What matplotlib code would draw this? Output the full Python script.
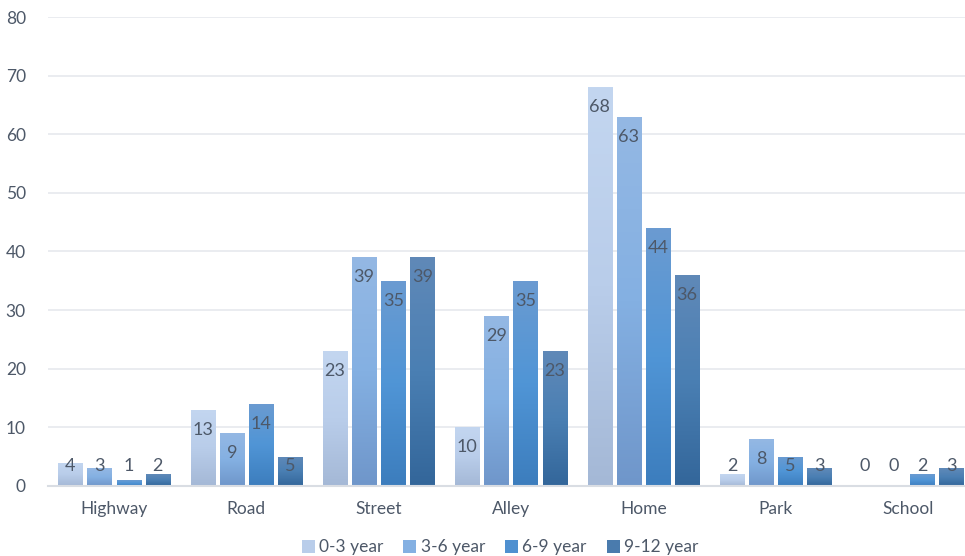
import numpy as np
import matplotlib
matplotlib.use("Agg")
import matplotlib.pyplot as plt
from matplotlib.colors import LinearSegmentedColormap
from matplotlib.patches import Patch

categories = ["Highway", "Road", "Street", "Alley", "Home", "Park", "School"]
series_names = ["0-3 year", "3-6 year", "6-9 year", "9-12 year"]
v0_3 = [4, 13, 23, 10, 68, 2, 0]
v3_6 = [3, 9, 39, 29, 63, 8, 0]
v6_9 = [1, 14, 35, 35, 44, 5, 2]
v9_12 = [2, 5, 39, 23, 36, 3, 3]
series_values = [v0_3, v3_6, v6_9, v9_12]
y_ticks = [0, 10, 20, 30, 40, 50, 60, 70, 80]

# gradient stops (top, middle, bottom)
grad = [
    ["#c3d6f0", "#b9cdea", "#a4b8d6"],
    ["#94b8e4", "#84b0e2", "#6f96ca"],
    ["#6b9bd1", "#5095d6", "#3c7dbd"],
    ["#6089b8", "#4a7fb3", "#33669a"],
]
legend_cols = ["#b9cdea", "#84b0e2", "#4f90d0", "#4a7bad"]

plt.rcParams['font.family'] = ['Lato', 'DejaVu Sans']
text_col = "#4d5868"

fig = plt.figure(figsize=(9.65, 5.56), dpi=100)
ax = fig.add_axes([48/965, 70/556, 926/965, 469/556])

x = np.arange(len(categories))
step = 0.22
width = 0.183
for i, (name, vals) in enumerate(zip(series_names, series_values)):
    offs = (i - 1.5) * step
    bars = ax.bar(x + offs, vals, width=width, color=grad[i][1], zorder=2, linewidth=0)
    cmap = LinearSegmentedColormap.from_list(f"g{i}", grad[i][::-1])
    gimg = np.linspace(0, 1, 256).reshape(-1, 1)
    for b, v in zip(bars, vals):
        if v > 0:
            x0 = b.get_x()
            im = ax.imshow(gimg, cmap=cmap, origin="lower", aspect="auto",
                           extent=[x0, x0 + b.get_width(), 0, v], zorder=3)
            im.set_clip_path(b)
        ly = max(v - 3.4, 3.4)
        ax.text(b.get_x() + b.get_width() / 2, ly, str(v),
                ha="center", va="center", fontsize=13, color=text_col, zorder=5)

ax.set_xlim(-0.5, len(categories) - 0.5)
ax.set_ylim(0, 80)
ax.set_yticks(y_ticks)
ax.set_xticks(x)
ax.set_xticklabels(categories)
ax.tick_params(axis="both", length=0, labelsize=12.5, colors=text_col)
ax.tick_params(axis="y", pad=16)
ax.tick_params(axis="x", pad=11)
ax.grid(axis="y", color="#e6e9ee", linewidth=1.2, zorder=0)
ax.set_axisbelow(True)
for s in ["top", "right", "left"]:
    ax.spines[s].set_visible(False)
ax.spines["bottom"].set_color("#d9dde3")
ax.spines["bottom"].set_linewidth(1.5)
ax.spines["bottom"].set_zorder(4)

handles = [Patch(facecolor=c, edgecolor="none", label=n) for c, n in zip(legend_cols, series_names)]
fig.legend(handles=handles, loc="lower center", bbox_to_anchor=(500/965, -0.027), ncol=4,
           frameon=False, fontsize=12.5, labelcolor=text_col, handlelength=0.75,
           handleheight=0.75, handletextpad=0.25, columnspacing=1.15)

fig.savefig("out.png", dpi=100)
